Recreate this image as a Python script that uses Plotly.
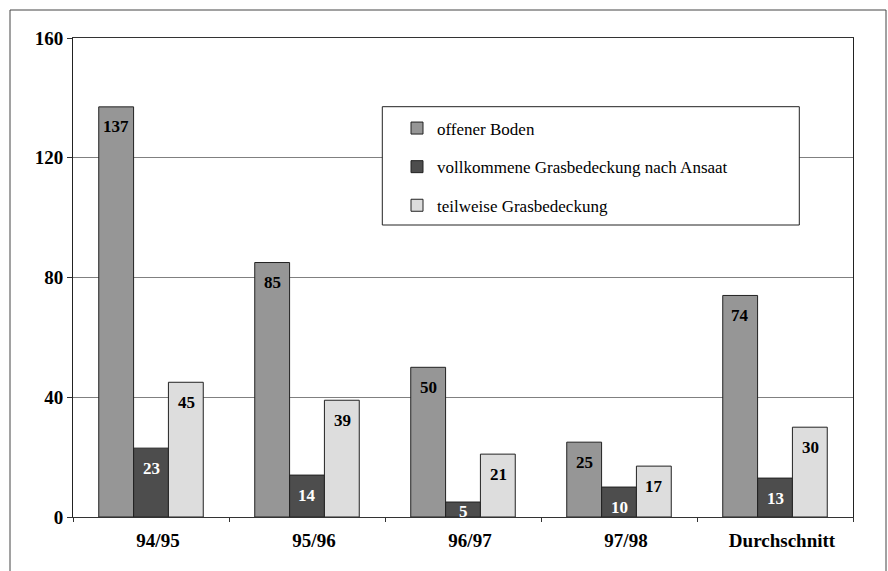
import plotly.graph_objects as go

categories = ["94/95", "95/96", "96/97", "97/98", "Durchschnitt"]
series_names = ["offener Boden", "vollkommene Grasbedeckung nach Ansaat", "teilweise Grasbedeckung"]
offener = [137, 85, 50, 25, 74]
vollkommen = [23, 14, 5, 10, 13]
teilweise = [45, 39, 21, 17, 30]
y_ticks = [0, 40, 80, 120, 160]

colors = ["#969696", "#4d4d4d", "#dddddd"]
text_colors = ["black", "white", "black"]
font_family = "Liberation Serif"

W, H = 888, 571
L, R, T, B = 73, 35, 38, 54
pw, ph = W - L - R, H - T - B

def px_to_paper_x(px):
    return (px - L) / pw

def px_to_paper_y(py):
    return (H - B - py) / ph

fig = go.Figure()
all_series = [offener, vollkommen, teilweise]
for i, (name, vals) in enumerate(zip(series_names, all_series)):
    fig.add_trace(go.Bar(
        x=categories, y=vals, name=name,
        marker=dict(color=colors[i], line=dict(color="#222222", width=1)),
        legendgroup=f"g{i}",
        offsetgroup=str(i),
    ))

# value labels (annotations positioned from data values)
annotations = []
for i, vals in enumerate(all_series):
    for j, v in enumerate(vals):
        annotations.append(dict(
            x=categories[j], y=max(v - 6.7, 1.9), xref="x", yref="y",
            text=f"<b>{v}</b>", showarrow=False,
            xshift=(i - 1) * 35, yanchor="middle",
            font=dict(family=font_family, size=17, color=text_colors[i]),
        ))

shapes = [
    # outer frame
    dict(type="rect", xref="paper", yref="paper",
         x0=px_to_paper_x(10), x1=px_to_paper_x(886),
         y0=px_to_paper_y(580), y1=px_to_paper_y(10),
         line=dict(color="#444444", width=1), fillcolor="rgba(0,0,0,0)", layer="below"),
    # legend box
    dict(type="rect", xref="paper", yref="paper",
         x0=px_to_paper_x(382.3), x1=px_to_paper_x(799.3),
         y0=px_to_paper_y(225), y1=px_to_paper_y(106.7),
         line=dict(color="#222222", width=1), fillcolor="white", layer="above"),
]

fig.update_layout(
    width=W, height=H,
    margin=dict(l=L, r=R, t=T, b=B),
    paper_bgcolor="white", plot_bgcolor="white",
    barmode="group", bargap=0.33, bargroupgap=0,
    font=dict(family=font_family, color="black"),
    showlegend=True,
    legend=dict(
        x=px_to_paper_x(397), y=px_to_paper_y(110.5), xanchor="left", yanchor="top",
        bgcolor="rgba(0,0,0,0)", borderwidth=0,
        font=dict(family=font_family, size=17, color="black"),
        tracegroupgap=13.5, traceorder="grouped",
    ),
    annotations=annotations,
    shapes=shapes,
    xaxis=dict(
        type="category", categoryorder="array", categoryarray=categories,
        showline=True, linecolor="#333333", linewidth=1, mirror=True,
        ticks="outside", ticklen=4, tickcolor="#333333", tickson="boundaries",
        tickfont=dict(family=font_family, size=19, color="black", weight="bold"),
        ticklabelstandoff=6, ticklabelshift=7,
        showgrid=False, zeroline=False,
    ),
    yaxis=dict(
        range=[0, 160], tickvals=y_ticks, ticktext=[str(t) for t in y_ticks],
        showline=True, linecolor="#222222", linewidth=1, mirror=True,
        ticks="outside", ticklen=5, tickcolor="#333333",
        tickfont=dict(family=font_family, size=19, color="black", weight="bold"),
        showgrid=True, gridcolor="#808080", gridwidth=1, zeroline=False,
    ),
)

fig.write_html("out.html")
